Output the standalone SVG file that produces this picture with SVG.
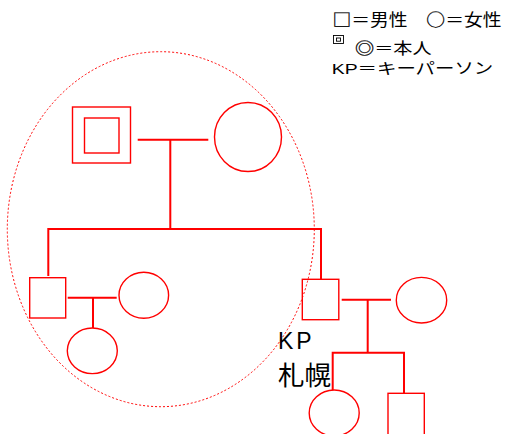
<svg xmlns="http://www.w3.org/2000/svg" width="505" height="434" viewBox="0 0 505 434">
<style>
.shape{fill:#fff;stroke:#ff0000;stroke-width:1.4}
.conn{fill:none;stroke:#ff0000;stroke-width:2}
.txt{font-family:"Liberation Sans","Noto Sans CJK JP",sans-serif;fill:#000}
.sym{font-family:"Noto Sans CJK JP","DejaVu Sans",sans-serif;fill:#000;stroke:#000;stroke-width:0.25}
.lbl{font-family:"Liberation Sans","Noto Sans CJK JP",sans-serif;fill:#000}
</style>
<rect width="505" height="434" fill="#fff"/>
<g id="legend">
<text class="txt" x="332.5" y="25.5" font-size="16.5" textLength="169" lengthAdjust="spacingAndGlyphs"><tspan class="sym">□︎</tspan>＝男性　<tspan class="sym">○︎</tspan>＝女性</text>
<rect x="333.5" y="35.5" width="10" height="8" fill="none" stroke="#000" stroke-width="0.9"/>
<rect x="336.5" y="38" width="4" height="3.2" fill="none" stroke="#000" stroke-width="0.9"/>
<text class="txt" x="355" y="54" font-size="15.5" textLength="76.7" lengthAdjust="spacingAndGlyphs"><tspan class="sym">◎︎</tspan>＝本人</text>
<text class="txt" x="331.7" y="73.5" font-size="15.5" textLength="161.6" lengthAdjust="spacingAndGlyphs">KP＝キーパーソン</text>
</g>
<g id="connectors">
<path class="conn" d="M137.7 139.7H208.3M170.3 139.7V229M48.3 276V229H321V279.3"/>
<path class="conn" d="M67.7 297.7H116.7M93 297.7V328"/>
<path class="conn" d="M341.7 299.7H391M367.7 299.7V352.7M332.7 390V352.7H404V393.3"/>
</g>
<g id="self">
<rect class="shape" x="72.5" y="107" width="58" height="56"/>
<rect class="shape" x="84.5" y="118" width="34.5" height="35"/>
</g>
<g id="wife"><ellipse class="shape" cx="248" cy="137" rx="33.5" ry="34.5"/></g>
<g id="son1"><rect class="shape" x="29.7" y="277.7" width="36" height="40.3"/></g>
<g id="son1-wife"><ellipse class="shape" cx="143.8" cy="295.3" rx="24.8" ry="23"/></g>
<g id="son1-daughter"><ellipse class="shape" cx="92.3" cy="350.8" rx="25" ry="22.8"/></g>
<g id="son2-kp"><rect class="shape" x="302.3" y="279.3" width="36.5" height="40.4"/></g>
<g id="son2-wife"><ellipse class="shape" cx="421.5" cy="300.2" rx="25.2" ry="22.8"/></g>
<g id="grand-daughter"><ellipse class="shape" cx="334.2" cy="413" rx="25" ry="23"/></g>
<g id="grand-son"><rect class="shape" x="388" y="393.3" width="36.3" height="44"/></g>
<g id="household">
<ellipse cx="160.8" cy="229.2" rx="153.5" ry="177.5" fill="none" stroke="#ff0000" stroke-width="1" stroke-dasharray="2 2"/>
</g>
<g id="kp-label">
<text class="lbl" x="278" y="349" font-size="23" letter-spacing="3">KP</text>
<text class="txt" x="278" y="384.5" font-size="26.5">札幌</text>
</g>
</svg>
